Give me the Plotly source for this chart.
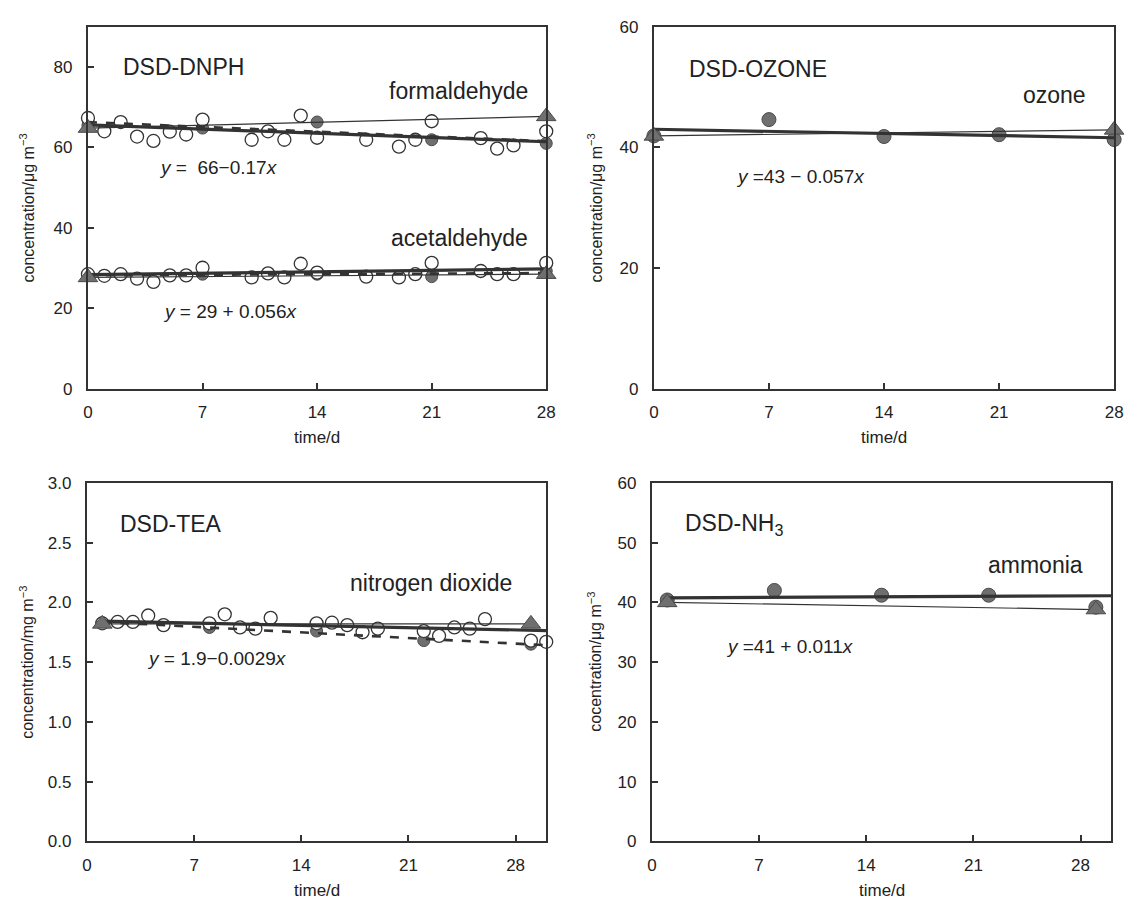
import numpy as np
import plotly.graph_objects as go

# ---------------- data ----------------
# Panel A: DSD-DNPH
dnph_open_days = [0, 1, 2, 3, 4, 5, 6, 7, 10, 11, 12, 13, 14, 17, 19, 20, 21, 24, 25, 26, 28]
form_open = [67.3, 64.0, 66.3, 62.7, 61.6, 63.9, 63.2, 66.9, 61.9, 64.0, 61.9, 67.9, 62.4,
             61.9, 60.2, 61.9, 66.5, 62.3, 59.7, 60.5, 64.0]
acet_open = [28.5, 28.1, 28.5, 27.4, 26.6, 28.2, 28.2, 30.1, 27.7, 28.7, 27.7, 31.1, 28.9,
             27.9, 27.7, 28.5, 31.3, 29.3, 28.5, 28.5, 31.3]
week_days = [0, 7, 14, 21, 28]
form_filled = [65.5, 64.8, 66.3, 61.9, 61.0]
acet_filled = [28.3, 28.5, 28.5, 27.9, 29.3]
tri_days = [0, 28]
form_tri = [64.8, 67.7]
acet_tri = [27.7, 28.5]
form_fit = [65.6, -0.15]   # intercept, slope (thick line)
acet_fit = [28.4, 0.05]

# Panel B: DSD-OZONE
oz_filled = [41.9, 44.6, 41.8, 42.1, 41.3]
oz_tri = [41.9, 42.9]
oz_fit = [43.0, -0.05]

# Panel C: DSD-TEA
tea_open_days = [1, 2, 3, 4, 5, 8, 9, 10, 11, 12, 15, 16, 17, 18, 19, 22, 23, 24, 25, 26, 29, 30]
no2_open = [1.825, 1.836, 1.836, 1.89, 1.81, 1.825, 1.90, 1.79, 1.78, 1.87, 1.825, 1.83,
            1.81, 1.75, 1.78, 1.76, 1.72, 1.79, 1.78, 1.86, 1.68, 1.67]
week_days_b = [1, 8, 15, 22, 29]
no2_filled = [1.83, 1.79, 1.76, 1.68, 1.65]
tri_days_b = [1, 29]
no2_tri = [1.82, 1.82]
no2_fit = [1.845, -0.0027]

# Panel D: DSD-NH3
nh3_filled = [40.4, 42.0, 41.2, 41.2, 39.2]
nh3_tri = [40.0, 38.8]
nh3_fit = [40.75, 0.012]

x_ticks = [0, 7, 14, 21, 28]

# ---------------- style ----------------
W, H = 1134, 912
FONT = "Liberation Sans, Arial, sans-serif"
INK = "#333333"
GRAY = "#6f6f6f"

def px_dom(a, b, total):
    return [a / total, b / total]

def py_dom(top, bottom):
    return [1 - bottom / H, 1 - top / H]

panels = {
    1: dict(x=px_dom(84, 548, W), y=py_dom(18, 388), xr=[0, 28], yr=[0, 90], yt=[0, 20, 40, 60, 80], fmt=""),
    2: dict(x=px_dom(657, 1123, W), y=py_dom(18, 388), xr=[0, 28], yr=[0, 60], yt=[0, 20, 40, 60], fmt=""),
    3: dict(x=px_dom(83, 548, W), y=py_dom(484, 850), xr=[0, 30], yr=[0, 3.0], yt=[0, 0.5, 1, 1.5, 2, 2.5, 3], fmt=".1f"),
    4: dict(x=px_dom(655, 1120, W), y=py_dom(484, 850), xr=[0, 30], yr=[0, 60], yt=[0, 10, 20, 30, 40, 50, 60], fmt=""),
}

fig = go.Figure()

def ax_names(i):
    return ("x" if i == 1 else f"x{i}"), ("y" if i == 1 else f"y{i}")

def add_markers(i, xs, ys, kind):
    xa, ya = ax_names(i)
    if kind == "open":
        m = dict(symbol="circle", size=13, color="white", line=dict(color=INK, width=1.3))
    elif kind == "filled":
        sz = 12 if i in (1, 3) else 14
        m = dict(symbol="circle", size=sz, color=GRAY, line=dict(color="#4a4a4a", width=1))
    else:
        m = dict(symbol="triangle-up", size=17, color=GRAY, line=dict(color="#4a4a4a", width=1))
    fig.add_trace(go.Scatter(x=xs, y=ys, mode="markers", marker=m, xaxis=xa, yaxis=ya,
                             cliponaxis=False, showlegend=False, hoverinfo="skip"))

def add_line(i, xs, ys, style):
    xa, ya = ax_names(i)
    if style == "thick":
        ln = dict(color=INK, width=3.2)
    elif style == "thin":
        ln = dict(color=INK, width=1.2)
    else:
        ln = dict(color=INK, width=2.6, dash="dash")
    fig.add_trace(go.Scatter(x=xs, y=ys, mode="lines", line=ln, xaxis=xa, yaxis=ya,
                             cliponaxis=False, showlegend=False, hoverinfo="skip"))

def fit_line(coef, x0, x1):
    xs = np.array([x0, x1], dtype=float)
    return xs, coef[0] + coef[1] * xs

def poly_line(days, vals, x0, x1):
    b, a = np.polyfit(days, vals, 1)
    xs = np.array([x0, x1], dtype=float)
    return xs, a + b * xs

# Panel 1
for opn, fil, tri, coef in [(form_open, form_filled, form_tri, form_fit),
                            (acet_open, acet_filled, acet_tri, acet_fit)]:
    add_markers(1, week_days, fil, "filled")
    add_markers(1, dnph_open_days, opn, "open")
    add_line(1, *fit_line(coef, 0, 28), "thick")
    add_line(1, *poly_line(week_days, fil, 0, 28), "dash")
    add_line(1, tri_days, tri, "thin")
    add_markers(1, tri_days, tri, "tri")

# Panel 2
add_markers(2, week_days, oz_filled, "filled")
add_line(2, *fit_line(oz_fit, 0, 28), "thick")
add_line(2, tri_days, oz_tri, "thin")
add_markers(2, tri_days, oz_tri, "tri")

# Panel 3
add_markers(3, week_days_b, no2_filled, "filled")
add_markers(3, tea_open_days, no2_open, "open")
add_line(3, *fit_line(no2_fit, 1, 30), "thick")
add_line(3, *poly_line(week_days_b, no2_filled, 1, 30), "dash")
add_line(3, tri_days_b, no2_tri, "thin")
add_markers(3, tri_days_b, no2_tri, "tri")

# Panel 4
add_markers(4, week_days_b, nh3_filled, "filled")
add_line(4, *fit_line(nh3_fit, 1, 30), "thick")
add_line(4, tri_days_b, nh3_tri, "thin")
add_markers(4, tri_days_b, nh3_tri, "tri")

layout = dict(width=W, height=H, margin=dict(l=0, r=0, t=0, b=0),
              paper_bgcolor="white", plot_bgcolor="white",
              font=dict(family=FONT, size=17, color="#222222"), showlegend=False)

for i, p in panels.items():
    xk = "xaxis" if i == 1 else f"xaxis{i}"
    yk = "yaxis" if i == 1 else f"yaxis{i}"
    xa, ya = ax_names(i)
    layout[xk] = dict(domain=p["x"], range=p["xr"], anchor=ya, tickvals=x_ticks,
                      ticks="inside", ticklen=6, tickwidth=1.5, tickcolor=INK,
                      showline=True, linecolor=INK, linewidth=2.2, mirror=True,
                      showgrid=False, zeroline=False, ticklabelstandoff=7,
                      tickfont=dict(size=17))
    layout[yk] = dict(domain=p["y"], range=p["yr"], anchor=xa, tickvals=p["yt"],
                      tickformat=p["fmt"],
                      ticks="inside", ticklen=6, tickwidth=1.5, tickcolor=INK,
                      showline=True, linecolor=INK, linewidth=2.2, mirror=True,
                      showgrid=False, zeroline=False, ticklabelstandoff=10,
                      tickfont=dict(size=17))

fig.update_layout(**layout)

ann = []
def text(i, x, y, s, size=23, anchor="left"):
    xa, ya = ax_names(i)
    ann.append(dict(x=x, y=y, xref=xa, yref=ya, text=s, showarrow=False,
                    xanchor=anchor, yanchor="middle", font=dict(size=size, family=FONT, color="#222222")))

text(1, 2.0, 80, "DSD-DNPH")
text(1, 27.0, 74, "formaldehyde", anchor="right")
text(1, 8.0, 55, "<i>y</i> =  66\u22120.17<i>x</i>", size=19, anchor="center")
text(1, 27.0, 37.5, "acetaldehyde", anchor="right")
text(1, 8.7, 19.2, "<i>y</i> = 29 + 0.056<i>x</i>", size=19, anchor="center")

text(2, 2.0, 53, "DSD-OZONE")
text(2, 26.4, 48.7, "ozone", anchor="right")
text(2, 8.9, 35.2, "<i>y</i> =43 \u2212 0.057<i>x</i>", size=19, anchor="center")

text(3, 2.0, 2.66, "DSD-TEA")
text(3, 27.9, 2.16, "nitrogen dioxide", anchor="right")
text(3, 8.5, 1.53, "<i>y</i> = 1.9\u22120.0029<i>x</i>", size=19, anchor="center")

text(4, 2.0, 53, "DSD-NH<sub>3</sub>")
text(4, 28.3, 46.2, "ammonia", anchor="right")
text(4, 9.0, 32.6, "<i>y</i> =41 + 0.011<i>x</i>", size=19, anchor="center")

# axis titles
ytitles = {1: "concentration/\u03bcg m<sup>\u22123</sup>", 2: "concentration/\u03bcg m<sup>\u22123</sup>",
           3: "concentration/mg m<sup>\u22123</sup>", 4: "cocentration/\u03bcg m<sup>\u22123</sup>"}
ytitle_x = {1: 22, 2: 597, 3: 22, 4: 597}
for i, p in panels.items():
    yc = (p["y"][0] + p["y"][1]) / 2
    ann.append(dict(x=ytitle_x[i] / W, y=yc, xref="paper", yref="paper", text=ytitles[i],
                    showarrow=False, textangle=-90, xanchor="center", yanchor="middle",
                    font=dict(size=16, family=FONT, color="#222222")))
    xc = (p["x"][0] + p["x"][1]) / 2
    ybot = p["y"][0] - 50 / H
    ann.append(dict(x=xc, y=ybot, xref="paper", yref="paper", text="time/d",
                    showarrow=False, xanchor="center", yanchor="middle",
                    font=dict(size=17, family=FONT, color="#222222")))

fig.update_layout(annotations=ann)
fig.write_html("out.html")
